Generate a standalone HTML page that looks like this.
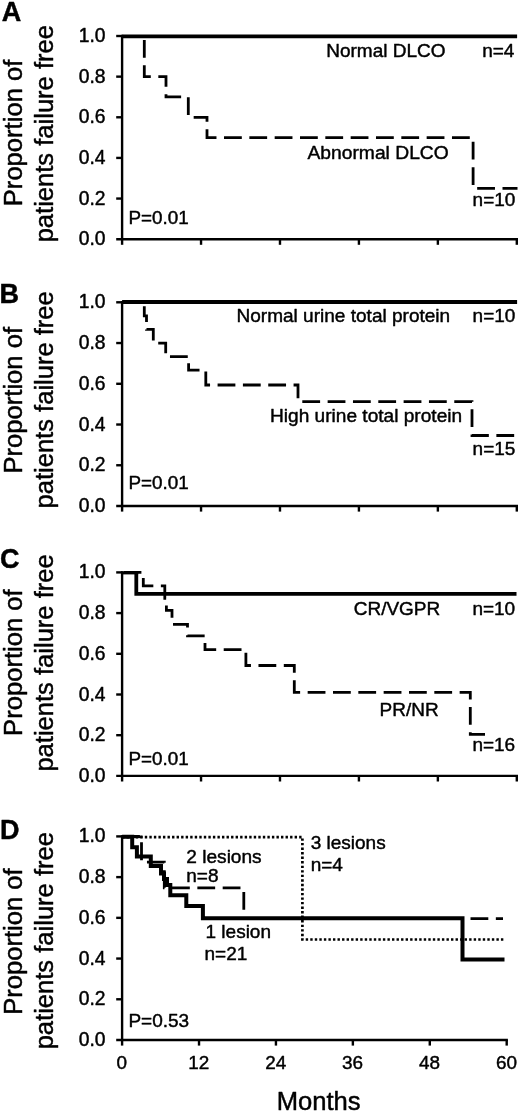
<!DOCTYPE html>
<html lang="en"><head><meta charset="utf-8"><title>Figure</title>
<style>
html,body{margin:0;padding:0;background:#fff;}
body{width:520px;height:1113px;overflow:hidden;}
svg{display:block;font-family:"Liberation Sans", sans-serif;}
svg line, svg path{stroke:#000;}
svg text{fill:#000;stroke:#000;stroke-width:0.45px;stroke-linejoin:round;}
</style></head><body>
<svg width="520" height="1113" viewBox="0 0 520 1113">
<rect width="520" height="1113" fill="#fff"/>
<g id="panelA">
<line x1="122.1" y1="34.8" x2="122.1" y2="244.79999999999998" stroke-width="2.4"/>
<line x1="116.19999999999999" y1="239.2" x2="518.0" y2="239.2" stroke-width="2.4"/>
<line x1="116.19999999999999" y1="198.56" x2="122.1" y2="198.56" stroke-width="2.4"/>
<line x1="116.19999999999999" y1="157.92" x2="122.1" y2="157.92" stroke-width="2.4"/>
<line x1="116.19999999999999" y1="117.28" x2="122.1" y2="117.28" stroke-width="2.4"/>
<line x1="116.19999999999999" y1="76.64" x2="122.1" y2="76.64" stroke-width="2.4"/>
<line x1="116.19999999999999" y1="36.00" x2="122.1" y2="36.00" stroke-width="2.4"/>
<text x="105.6" y="245.2" font-size="19.3" text-anchor="end" font-weight="normal" >0.0</text>
<text x="105.6" y="204.56" font-size="19.3" text-anchor="end" font-weight="normal" >0.2</text>
<text x="105.6" y="163.92" font-size="19.3" text-anchor="end" font-weight="normal" >0.4</text>
<text x="105.6" y="123.28" font-size="19.3" text-anchor="end" font-weight="normal" >0.6</text>
<text x="105.6" y="82.64" font-size="19.3" text-anchor="end" font-weight="normal" >0.8</text>
<text x="105.6" y="42.0" font-size="19.3" text-anchor="end" font-weight="normal" >1.0</text>
<line x1="201.04" y1="239.2" x2="201.04" y2="244.79999999999998" stroke-width="2.4"/>
<line x1="279.98" y1="239.2" x2="279.98" y2="244.79999999999998" stroke-width="2.4"/>
<line x1="358.92" y1="239.2" x2="358.92" y2="244.79999999999998" stroke-width="2.4"/>
<line x1="437.86" y1="239.2" x2="437.86" y2="244.79999999999998" stroke-width="2.4"/>
<line x1="516.80" y1="239.2" x2="516.80" y2="244.79999999999998" stroke-width="2.4"/>
<text x="1.8" y="20.8" font-size="27" text-anchor="start" font-weight="bold" >A</text>
<text transform="translate(22.2,132.95) rotate(-90)" font-size="25.6" text-anchor="middle">Proportion of</text>
<text transform="translate(53.4,133.70000000000002) rotate(-90)" font-size="25.55" text-anchor="middle">patients failure free</text>
<path d="M144.3,36.0 L144.3,76.64 L166,76.64 L166,96.96 L188.3,96.96 L188.3,117.28 L207,117.28 L207,137.6 L473.1,137.6 L473.1,188.4 L517.5,188.4" stroke-width="2.8" fill="none" stroke-dasharray="17.8 7.53" stroke-dashoffset="-4" />
<path d="M122.1,36.3 L517.1,36.3" stroke-width="3.8" fill="none" />
<text x="326.2" y="57.4" font-size="19.0" text-anchor="start" font-weight="normal" >Normal DLCO</text>
<text x="482.2" y="57.4" font-size="19.0" text-anchor="start" font-weight="normal" >n=4</text>
<text x="307.5" y="158.5" font-size="19.25" text-anchor="start" font-weight="normal" >Abnormal DLCO</text>
<text x="472.6" y="205.9" font-size="19.0" text-anchor="start" font-weight="normal" >n=10</text>
<text x="128.4" y="224.4" font-size="18.85" text-anchor="start" font-weight="normal" >P=0.01</text>
</g>
<g id="panelB">
<line x1="122.1" y1="301.1" x2="122.1" y2="511.6" stroke-width="2.4"/>
<line x1="116.19999999999999" y1="506.0" x2="518.0" y2="506.0" stroke-width="2.4"/>
<line x1="116.19999999999999" y1="465.26" x2="122.1" y2="465.26" stroke-width="2.4"/>
<line x1="116.19999999999999" y1="424.52" x2="122.1" y2="424.52" stroke-width="2.4"/>
<line x1="116.19999999999999" y1="383.78" x2="122.1" y2="383.78" stroke-width="2.4"/>
<line x1="116.19999999999999" y1="343.04" x2="122.1" y2="343.04" stroke-width="2.4"/>
<line x1="116.19999999999999" y1="302.30" x2="122.1" y2="302.30" stroke-width="2.4"/>
<text x="105.6" y="512.0" font-size="19.3" text-anchor="end" font-weight="normal" >0.0</text>
<text x="105.6" y="471.26" font-size="19.3" text-anchor="end" font-weight="normal" >0.2</text>
<text x="105.6" y="430.52" font-size="19.3" text-anchor="end" font-weight="normal" >0.4</text>
<text x="105.6" y="389.78" font-size="19.3" text-anchor="end" font-weight="normal" >0.6</text>
<text x="105.6" y="349.04" font-size="19.3" text-anchor="end" font-weight="normal" >0.8</text>
<text x="105.6" y="308.3" font-size="19.3" text-anchor="end" font-weight="normal" >1.0</text>
<line x1="201.04" y1="506.0" x2="201.04" y2="511.6" stroke-width="2.4"/>
<line x1="279.98" y1="506.0" x2="279.98" y2="511.6" stroke-width="2.4"/>
<line x1="358.92" y1="506.0" x2="358.92" y2="511.6" stroke-width="2.4"/>
<line x1="437.86" y1="506.0" x2="437.86" y2="511.6" stroke-width="2.4"/>
<line x1="516.80" y1="506.0" x2="516.80" y2="511.6" stroke-width="2.4"/>
<text x="-0.5" y="302.5" font-size="27" text-anchor="start" font-weight="bold" >B</text>
<text transform="translate(22.2,400.24999999999994) rotate(-90)" font-size="25.6" text-anchor="middle">Proportion of</text>
<text transform="translate(53.4,399.84999999999997) rotate(-90)" font-size="25.55" text-anchor="middle">patients failure free</text>
<path d="M144.3,302.3 L144.3,315.88 L146.5,315.88 L146.5,329.46 L153.3,329.46 L153.3,343.04 L165.7,343.04 L165.7,356.62 L188.6,356.62 L188.6,370.2 L205.8,370.2 L205.8,385 L298,385 L298,401.6 L472,401.6 L472,435.5 L520,435.5" stroke-width="2.8" fill="none" stroke-dasharray="17.8 7.53" stroke-dashoffset="-4" />
<path d="M122.1,302.0 L517.1,302.0" stroke-width="3.8" fill="none" />
<text x="236.5" y="322.2" font-size="19.05" text-anchor="start" font-weight="normal" >Normal urine total protein</text>
<text x="472.6" y="322.2" font-size="19.0" text-anchor="start" font-weight="normal" >n=10</text>
<text x="270" y="422.3" font-size="19.1" text-anchor="start" font-weight="normal" >High urine total protein</text>
<text x="472.6" y="455" font-size="19.0" text-anchor="start" font-weight="normal" >n=15</text>
<text x="128.4" y="489.2" font-size="18.85" text-anchor="start" font-weight="normal" >P=0.01</text>
</g>
<g id="panelC">
<line x1="122.1" y1="571.1999999999999" x2="122.1" y2="781.5" stroke-width="2.4"/>
<line x1="116.19999999999999" y1="775.9" x2="518.0" y2="775.9" stroke-width="2.4"/>
<line x1="116.19999999999999" y1="735.20" x2="122.1" y2="735.20" stroke-width="2.4"/>
<line x1="116.19999999999999" y1="694.50" x2="122.1" y2="694.50" stroke-width="2.4"/>
<line x1="116.19999999999999" y1="653.80" x2="122.1" y2="653.80" stroke-width="2.4"/>
<line x1="116.19999999999999" y1="613.10" x2="122.1" y2="613.10" stroke-width="2.4"/>
<line x1="116.19999999999999" y1="572.40" x2="122.1" y2="572.40" stroke-width="2.4"/>
<text x="105.6" y="781.9" font-size="19.3" text-anchor="end" font-weight="normal" >0.0</text>
<text x="105.6" y="741.2" font-size="19.3" text-anchor="end" font-weight="normal" >0.2</text>
<text x="105.6" y="700.5" font-size="19.3" text-anchor="end" font-weight="normal" >0.4</text>
<text x="105.6" y="659.8" font-size="19.3" text-anchor="end" font-weight="normal" >0.6</text>
<text x="105.6" y="619.1" font-size="19.3" text-anchor="end" font-weight="normal" >0.8</text>
<text x="105.6" y="578.4" font-size="19.3" text-anchor="end" font-weight="normal" >1.0</text>
<line x1="201.04" y1="775.9" x2="201.04" y2="781.5" stroke-width="2.4"/>
<line x1="279.98" y1="775.9" x2="279.98" y2="781.5" stroke-width="2.4"/>
<line x1="358.92" y1="775.9" x2="358.92" y2="781.5" stroke-width="2.4"/>
<line x1="437.86" y1="775.9" x2="437.86" y2="781.5" stroke-width="2.4"/>
<line x1="516.80" y1="775.9" x2="516.80" y2="781.5" stroke-width="2.4"/>
<text x="0.0" y="567.8" font-size="27" text-anchor="start" font-weight="bold" >C</text>
<text transform="translate(22.2,662.65) rotate(-90)" font-size="25.6" text-anchor="middle">Proportion of</text>
<text transform="translate(53.4,662.9499999999999) rotate(-90)" font-size="25.55" text-anchor="middle">patients failure free</text>
<path d="M122.1,572.4 L143.3,572.4 L143.3,585.8 L164.8,585.8 L164.8,598.3 L166.4,598.3 L166.4,610.3 L172,610.3 L172,624.3 L187.5,624.3 L187.5,635.8 L205,635.8 L205,649.6 L245.9,649.6 L245.9,665.5 L294.3,665.5 L294.3,692.3 L470.3,692.3 L470.3,734.3 L485,734.3" stroke-width="2.8" fill="none" stroke-dasharray="17.8 7.53" stroke-dashoffset="-1.5" />
<path d="M122.1,572.9 L138.2,572.9" stroke-width="3.0" fill="none" />
<path d="M136.3,571.5 L136.3,593.9 L516.5,593.9" stroke-width="3.8" fill="none" />
<text x="353.7" y="615" font-size="19.0" text-anchor="start" font-weight="normal" >CR/VGPR</text>
<text x="472.4" y="615" font-size="19.0" text-anchor="start" font-weight="normal" >n=10</text>
<text x="379.5" y="715.5" font-size="19.0" text-anchor="start" font-weight="normal" >PR/NR</text>
<text x="472.4" y="751.3" font-size="19.0" text-anchor="start" font-weight="normal" >n=16</text>
<text x="128.4" y="764.5" font-size="18.85" text-anchor="start" font-weight="normal" >P=0.01</text>
</g>
<g id="panelD">
<line x1="122.1" y1="835.1999999999999" x2="122.1" y2="1045.6" stroke-width="2.4"/>
<line x1="116.19999999999999" y1="1040.0" x2="507.9" y2="1040.0" stroke-width="2.4"/>
<line x1="116.19999999999999" y1="999.28" x2="122.1" y2="999.28" stroke-width="2.4"/>
<line x1="116.19999999999999" y1="958.56" x2="122.1" y2="958.56" stroke-width="2.4"/>
<line x1="116.19999999999999" y1="917.84" x2="122.1" y2="917.84" stroke-width="2.4"/>
<line x1="116.19999999999999" y1="877.12" x2="122.1" y2="877.12" stroke-width="2.4"/>
<line x1="116.19999999999999" y1="836.40" x2="122.1" y2="836.40" stroke-width="2.4"/>
<text x="105.6" y="1046.0" font-size="19.3" text-anchor="end" font-weight="normal" >0.0</text>
<text x="105.6" y="1005.28" font-size="19.3" text-anchor="end" font-weight="normal" >0.2</text>
<text x="105.6" y="964.56" font-size="19.3" text-anchor="end" font-weight="normal" >0.4</text>
<text x="105.6" y="923.84" font-size="19.3" text-anchor="end" font-weight="normal" >0.6</text>
<text x="105.6" y="883.12" font-size="19.3" text-anchor="end" font-weight="normal" >0.8</text>
<text x="105.6" y="842.4" font-size="19.3" text-anchor="end" font-weight="normal" >1.0</text>
<line x1="199.02" y1="1040.0" x2="199.02" y2="1045.6" stroke-width="2.4"/>
<line x1="275.94" y1="1040.0" x2="275.94" y2="1045.6" stroke-width="2.4"/>
<line x1="352.86" y1="1040.0" x2="352.86" y2="1045.6" stroke-width="2.4"/>
<line x1="429.78" y1="1040.0" x2="429.78" y2="1045.6" stroke-width="2.4"/>
<line x1="506.70" y1="1040.0" x2="506.70" y2="1045.6" stroke-width="2.4"/>
<text x="121.8" y="1069.0" font-size="18.9" text-anchor="middle" font-weight="normal" >0</text>
<text x="198.72" y="1069.0" font-size="18.9" text-anchor="middle" font-weight="normal" >12</text>
<text x="275.64" y="1069.0" font-size="18.9" text-anchor="middle" font-weight="normal" >24</text>
<text x="352.56" y="1069.0" font-size="18.9" text-anchor="middle" font-weight="normal" >36</text>
<text x="429.48" y="1069.0" font-size="18.9" text-anchor="middle" font-weight="normal" >48</text>
<text x="506.4" y="1069.0" font-size="18.9" text-anchor="middle" font-weight="normal" >60</text>
<text x="0.0" y="839.1" font-size="27" text-anchor="start" font-weight="bold" >D</text>
<text transform="translate(22.2,941.6) rotate(-90)" font-size="25.6" text-anchor="middle">Proportion of</text>
<text transform="translate(53.4,940.6999999999999) rotate(-90)" font-size="25.55" text-anchor="middle">patients failure free</text>
<path d="M122.1,837.1 L302.4,837.1 L302.4,939.5 L504.5,939.5" stroke-width="2.7" fill="none" stroke-dasharray="2.4 2.14" stroke-dashoffset="0" />
<path d="M122.1,836.9 L142.5,836.9" stroke-width="2.5" fill="none" />
<path d="M122.1,836.4 L141.5,836.4 L141.5,862.2 L164.3,862.2 L164.3,887.8 L243.8,887.8 L243.8,918.6 L503,918.6" stroke-width="2.8" fill="none" stroke-dasharray="17.8 7.53" stroke-dashoffset="0" />
<path d="M122.1,836.8 L132.2,836.8 L132.2,847.2 L136.9,847.2 L136.9,856.4 L150.8,856.4 L150.8,866 L161,866 L161,873.5 L164,873.5 L164,879 L167,879 L167,885 L170.3,885 L170.3,895.3 L186.3,895.3 L186.3,906 L202.9,906 L202.9,918.3 L462.5,918.3 L462.5,959.5 L504.5,959.5" stroke-width="4.0" fill="none" />
<text x="186.3" y="862.7" font-size="19.1" text-anchor="start" font-weight="normal" >2 lesions</text>
<text x="186.3" y="882" font-size="19.0" text-anchor="start" font-weight="normal" >n=8</text>
<text x="310.7" y="849.2" font-size="19.0" text-anchor="start" font-weight="normal" >3 lesions</text>
<text x="310.7" y="871.0" font-size="19.0" text-anchor="start" font-weight="normal" >n=4</text>
<text x="205.5" y="937.5" font-size="19.0" text-anchor="start" font-weight="normal" >1 lesion</text>
<text x="204.5" y="959.5" font-size="19.0" text-anchor="start" font-weight="normal" >n=21</text>
<text x="128.4" y="1026.7" font-size="19.0" text-anchor="start" font-weight="normal" >P=0.53</text>
<text x="318.7" y="1109.6" font-size="25.6" text-anchor="middle" font-weight="normal" >Months</text>
</g>
</svg></body></html>
